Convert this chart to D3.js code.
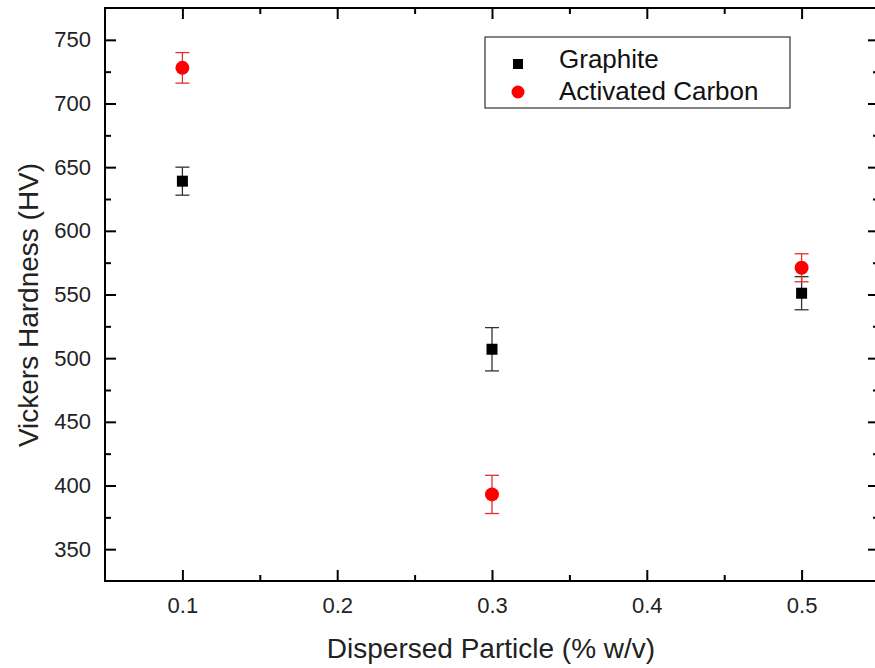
<!DOCTYPE html>
<html>
<head>
<meta charset="utf-8">
<script src="https://cdn.jsdelivr.net/npm/d3@7"></script>
<style>
body{margin:0;background:#fff;}
text{font-family:"Liberation Sans",Arial,sans-serif;}
</style>
</head>
<body>
<svg id="svg" width="875" height="668"></svg>
<script>
var xVals=[0.1,0.3,0.5];
var graphite=[639,507,551];
var graphiteErr=[11,17,13];
var carbon=[728,393,571];
var carbonErr=[12,15,11];
var seriesNames=["Graphite","Activated Carbon"];
var xTicks=[0.1,0.2,0.3,0.4,0.5];
var yTicks=[350,400,450,500,550,600,650,700,750];

var marginLeft=105, marginTop=8;
var width=774, height=573;

var svg=d3.select("#svg");
var g=svg.append("g").attr("transform","translate("+marginLeft+","+marginTop+")");

var x=d3.scaleLinear().domain([0.05,0.55]).range([0,width]);
var y=d3.scaleLinear().domain([325,775]).range([height,0]);

var minorX=d3.range(0.15,0.55,0.1);
var minorY=d3.range(375,775,50);

// frame
g.append("rect").attr("width",width).attr("height",height)
    .attr("fill","none").attr("stroke","#000").attr("stroke-width",2);

function ticks(axisFn,vals,size,fmt,tr){
    var a=g.append("g").attr("transform",tr)
        .call(axisFn.tickValues(vals).tickSizeInner(size).tickSizeOuter(0)
            .tickFormat(fmt));
    a.select(".domain").remove();
    a.selectAll("line").attr("stroke","#000").attr("stroke-width",2);
    return a;
}
// inward ticks
var bx=ticks(d3.axisBottom(x),xTicks,-11,d3.format(".1f"),"translate(0,"+height+")");
bx.selectAll("text").attr("y",16).style("font-size","22px").attr("fill","#222");
ticks(d3.axisBottom(x),minorX,-6,"","translate(0,"+height+")");
ticks(d3.axisTop(x),xTicks,-11,"","translate(0,0)");
ticks(d3.axisTop(x),minorX,-6,"","translate(0,0)");

var ly=ticks(d3.axisLeft(y),yTicks,-11,d3.format("d"),"translate(0,0)");
ly.selectAll("text").attr("x",-14).style("font-size","22px").attr("fill","#222");
ticks(d3.axisLeft(y),minorY,-6,"","translate(0,0)");
ticks(d3.axisRight(y),yTicks,-11,"","translate("+width+",0)");
ticks(d3.axisRight(y),minorY,-6,"","translate("+width+",0)");

// titles
svg.append("text").attr("x",491).attr("y",658).attr("text-anchor","middle")
    .style("font-size","28px").attr("fill","#222").text("Dispersed Particle (% w/v)");
svg.append("text").attr("transform","translate(38,305) rotate(-90)").attr("text-anchor","middle")
    .style("font-size","28px").attr("fill","#222").text("Vickers Hardness (HV)");

// error bars
function errBars(vals,errs,color){
    var e=g.append("g").selectAll("g").data(vals).enter().append("g")
        .attr("stroke",color).attr("stroke-width",1.3);
    e.append("line").attr("x1",(d,i)=>x(xVals[i])).attr("x2",(d,i)=>x(xVals[i]))
        .attr("y1",(d,i)=>y(d+errs[i])).attr("y2",(d,i)=>y(d-errs[i]));
    e.append("line").attr("x1",(d,i)=>x(xVals[i])-7).attr("x2",(d,i)=>x(xVals[i])+7)
        .attr("y1",(d,i)=>y(d+errs[i])).attr("y2",(d,i)=>y(d+errs[i]));
    e.append("line").attr("x1",(d,i)=>x(xVals[i])-7).attr("x2",(d,i)=>x(xVals[i])+7)
        .attr("y1",(d,i)=>y(d-errs[i])).attr("y2",(d,i)=>y(d-errs[i]));
}
errBars(graphite,graphiteErr,"#333");
errBars(carbon,carbonErr,"#e03030");

g.append("g").selectAll("rect").data(graphite).enter().append("rect")
    .attr("x",(d,i)=>x(xVals[i])-5.5).attr("y",d=>y(d)-5.5)
    .attr("width",11).attr("height",11).attr("fill","#000");
g.append("g").selectAll("circle").data(carbon).enter().append("circle")
    .attr("cx",(d,i)=>x(xVals[i])).attr("cy",d=>y(d)).attr("r",7).attr("fill","#f00");

// legend
var lg=svg.append("g").attr("transform","translate(485,37)");
lg.append("rect").attr("width",305).attr("height",71).attr("fill","#fff")
    .attr("stroke","#333").attr("stroke-width",1.2);
lg.append("rect").attr("x",28).attr("y",22).attr("width",10).attr("height",10).attr("fill","#000");
lg.append("circle").attr("cx",33).attr("cy",55).attr("r",6.5).attr("fill","#f00");
lg.selectAll("text.lab").data(seriesNames).enter().append("text").attr("class","lab")
    .attr("x",74).attr("y",(d,i)=>31+i*32).style("font-size","26px").attr("fill","#111")
    .text(d=>d);
</script>
</body>
</html>
